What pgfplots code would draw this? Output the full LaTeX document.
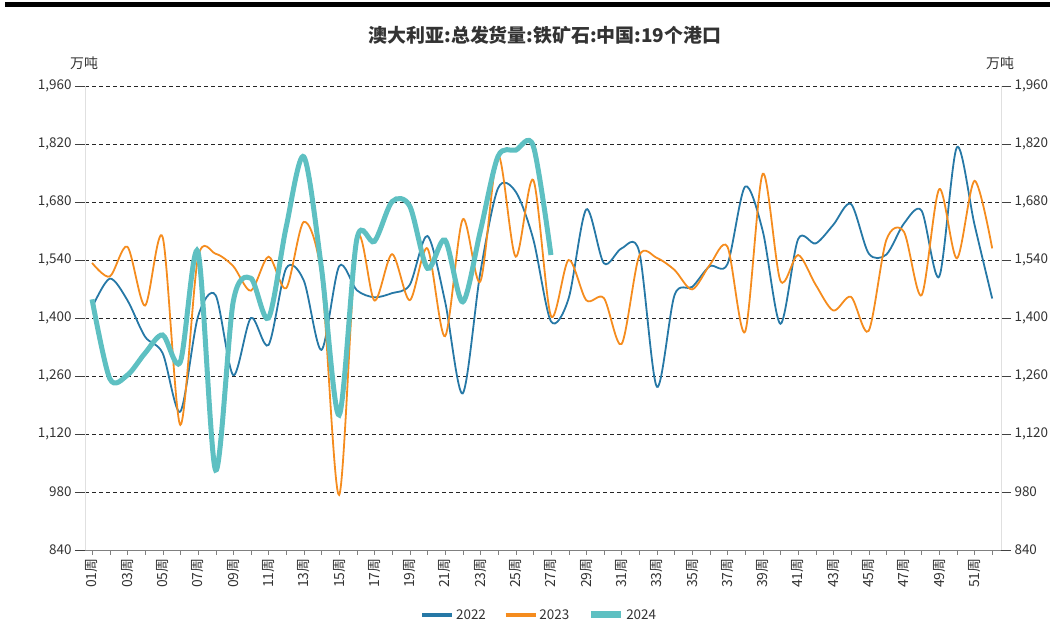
\documentclass[border=0pt]{standalone}
\usepackage{fontspec}
\setmainfont{Noto Sans CJK SC}
\usepackage{pgfplots}
\pgfplotsset{compat=1.18}
\definecolor{c22}{RGB}{38,120,166}
\definecolor{c23}{RGB}{245,140,30}
\definecolor{c24}{RGB}{94,192,194}
\definecolor{txt}{RGB}{51,51,51}
\begin{document}
\begin{tikzpicture}[x=1bp,y=1bp]
\useasboundingbox (0,0) rectangle (1050,637);
\fill[black] (5,630) rectangle (1050,635);
\node[font=\bfseries\fontsize{19}{21}\selectfont, text=txt] at (545,602) {澳大利亚:总发货量:铁矿石:中国:19个港口};
\node[font=\fontsize{14}{16}\selectfont, text=txt] at (84,574) {万吨};
\node[font=\fontsize{14}{16}\selectfont, text=txt] at (1000,574) {万吨};
\pgfplotsset{
  common/.style={at={(85bp,87bp)}, anchor=south west, width=916bp, height=464bp, scale only axis,
    xmin=0.6, xmax=52.5, ymin=840, ymax=1960,
    ytick={840,980,1120,1260,1400,1540,1680,1820,1960},
    /pgf/number format/1000 sep={,},
    /pgf/number format/assume math mode=true}
}
% main axis
\begin{axis}[common,
  axis x line*=bottom, axis y line*=left,
  axis line style={-}, x axis line style={draw=gray}, y axis line style={draw=black!12},
  xtick={1,...,52},
  xticklabels={01周,,03周,,05周,,07周,,09周,,11周,,13周,,15周,,17周,,19周,,21周,,23周,,25周,,27周,,29周,,31周,,33周,,35周,,37周,,39周,,41周,,43周,,45周,,47周,,49周,,51周,},
  x tick label style={rotate=90, anchor=east, font=\fontsize{14}{15}\selectfont, text=txt},
  major tick length=5bp, tick align=outside, xtick style={draw=gray},
  yticklabels={}, ytick style={draw=none},
  ymajorgrids, major grid style={dash pattern=on 4bp off 3bp, black!85, line width=0.7bp},
  legend style={at={(0.496,-0.14)}, anchor=center, draw=none, legend columns=3,
    font=\fontsize{13.5}{15}\selectfont, text=txt,
    /tikz/every even column/.append style={column sep=16bp}},
]
\addplot[c22, line width=1.8bp, smooth, tension=0.5,
  legend image code/.code={\draw[c22, line width=3.5bp] (0bp,0bp) -- (30bp,0bp);}] coordinates {
(1,1425)(2,1495)(3,1443)(4,1355)(5,1315)(6,1174)(7,1403)(8,1455)(9,1262)(10,1400)
(11,1335)(12,1520)(13,1490)(14,1323)(15,1525)(16,1467)(17,1450)(18,1460)(19,1480)(20,1598)
(21,1440)(22,1218)(23,1510)(24,1713)(25,1705)(26,1590)(27,1392)(28,1447)(29,1662)(30,1532)
(31,1568)(32,1560)(33,1234)(34,1455)(35,1475)(36,1525)(37,1530)(38,1717)(39,1610)(40,1386)
(41,1590)(42,1580)(43,1625)(44,1675)(45,1556)(46,1553)(47,1628)(48,1659)(49,1500)(50,1812)
(51,1625)(52,1447)};
\addlegendentry{2022}
\addplot[c23, line width=1.8bp, smooth, tension=0.5,
  legend image code/.code={\draw[c23, line width=3.5bp] (0bp,0bp) -- (30bp,0bp);}] coordinates {
(1,1533)(2,1500)(3,1572)(4,1430)(5,1595)(6,1142)(7,1545)(8,1555)(9,1525)(10,1466)
(11,1548)(12,1472)(13,1632)(14,1500)(15,973)(16,1588)(17,1442)(18,1554)(19,1443)(20,1568)
(21,1356)(22,1638)(23,1488)(24,1793)(25,1548)(26,1733)(27,1405)(28,1540)(29,1443)(30,1448)
(31,1337)(32,1550)(33,1545)(34,1516)(35,1469)(36,1528)(37,1572)(38,1367)(39,1748)(40,1490)
(41,1552)(42,1480)(43,1418)(44,1451)(45,1369)(46,1588)(47,1608)(48,1455)(49,1711)(50,1544)
(51,1731)(52,1568)};
\addlegendentry{2023}
\addplot[c24, line width=5bp, smooth, tension=0.5,
  legend image code/.code={\draw[c24, line width=7bp] (0bp,0bp) -- (30bp,0bp);}] coordinates {
(1,1445)(2,1254)(3,1262)(4,1315)(5,1359)(6,1294)(7,1560)(8,1033)(9,1440)(10,1496)
(11,1400)(12,1620)(13,1789)(14,1520)(15,1166)(16,1590)(17,1585)(18,1681)(19,1670)(20,1520)
(21,1588)(22,1439)(23,1610)(24,1790)(25,1805)(26,1815)(27,1552)};
\addlegendentry{2024}
\end{axis}
% left ticks and labels
\begin{axis}[common,
  axis x line=none, axis y line*=left, axis line style={-, draw=black!12},
  major tick length=10bp, tick align=outside, ytick style={draw=black!75},
  yticklabel style={font=\fontsize{13.5}{15}\selectfont, text=txt},
]
\end{axis}
% right ticks and labels
\begin{axis}[common,
  axis x line=none, axis y line*=right, axis line style={-, draw=black!12},
  major tick length=10bp, tick align=outside, ytick style={draw=black!75},
  yticklabel style={font=\fontsize{13.5}{15}\selectfont, text=txt},
]
\end{axis}
\end{tikzpicture}
\end{document}
